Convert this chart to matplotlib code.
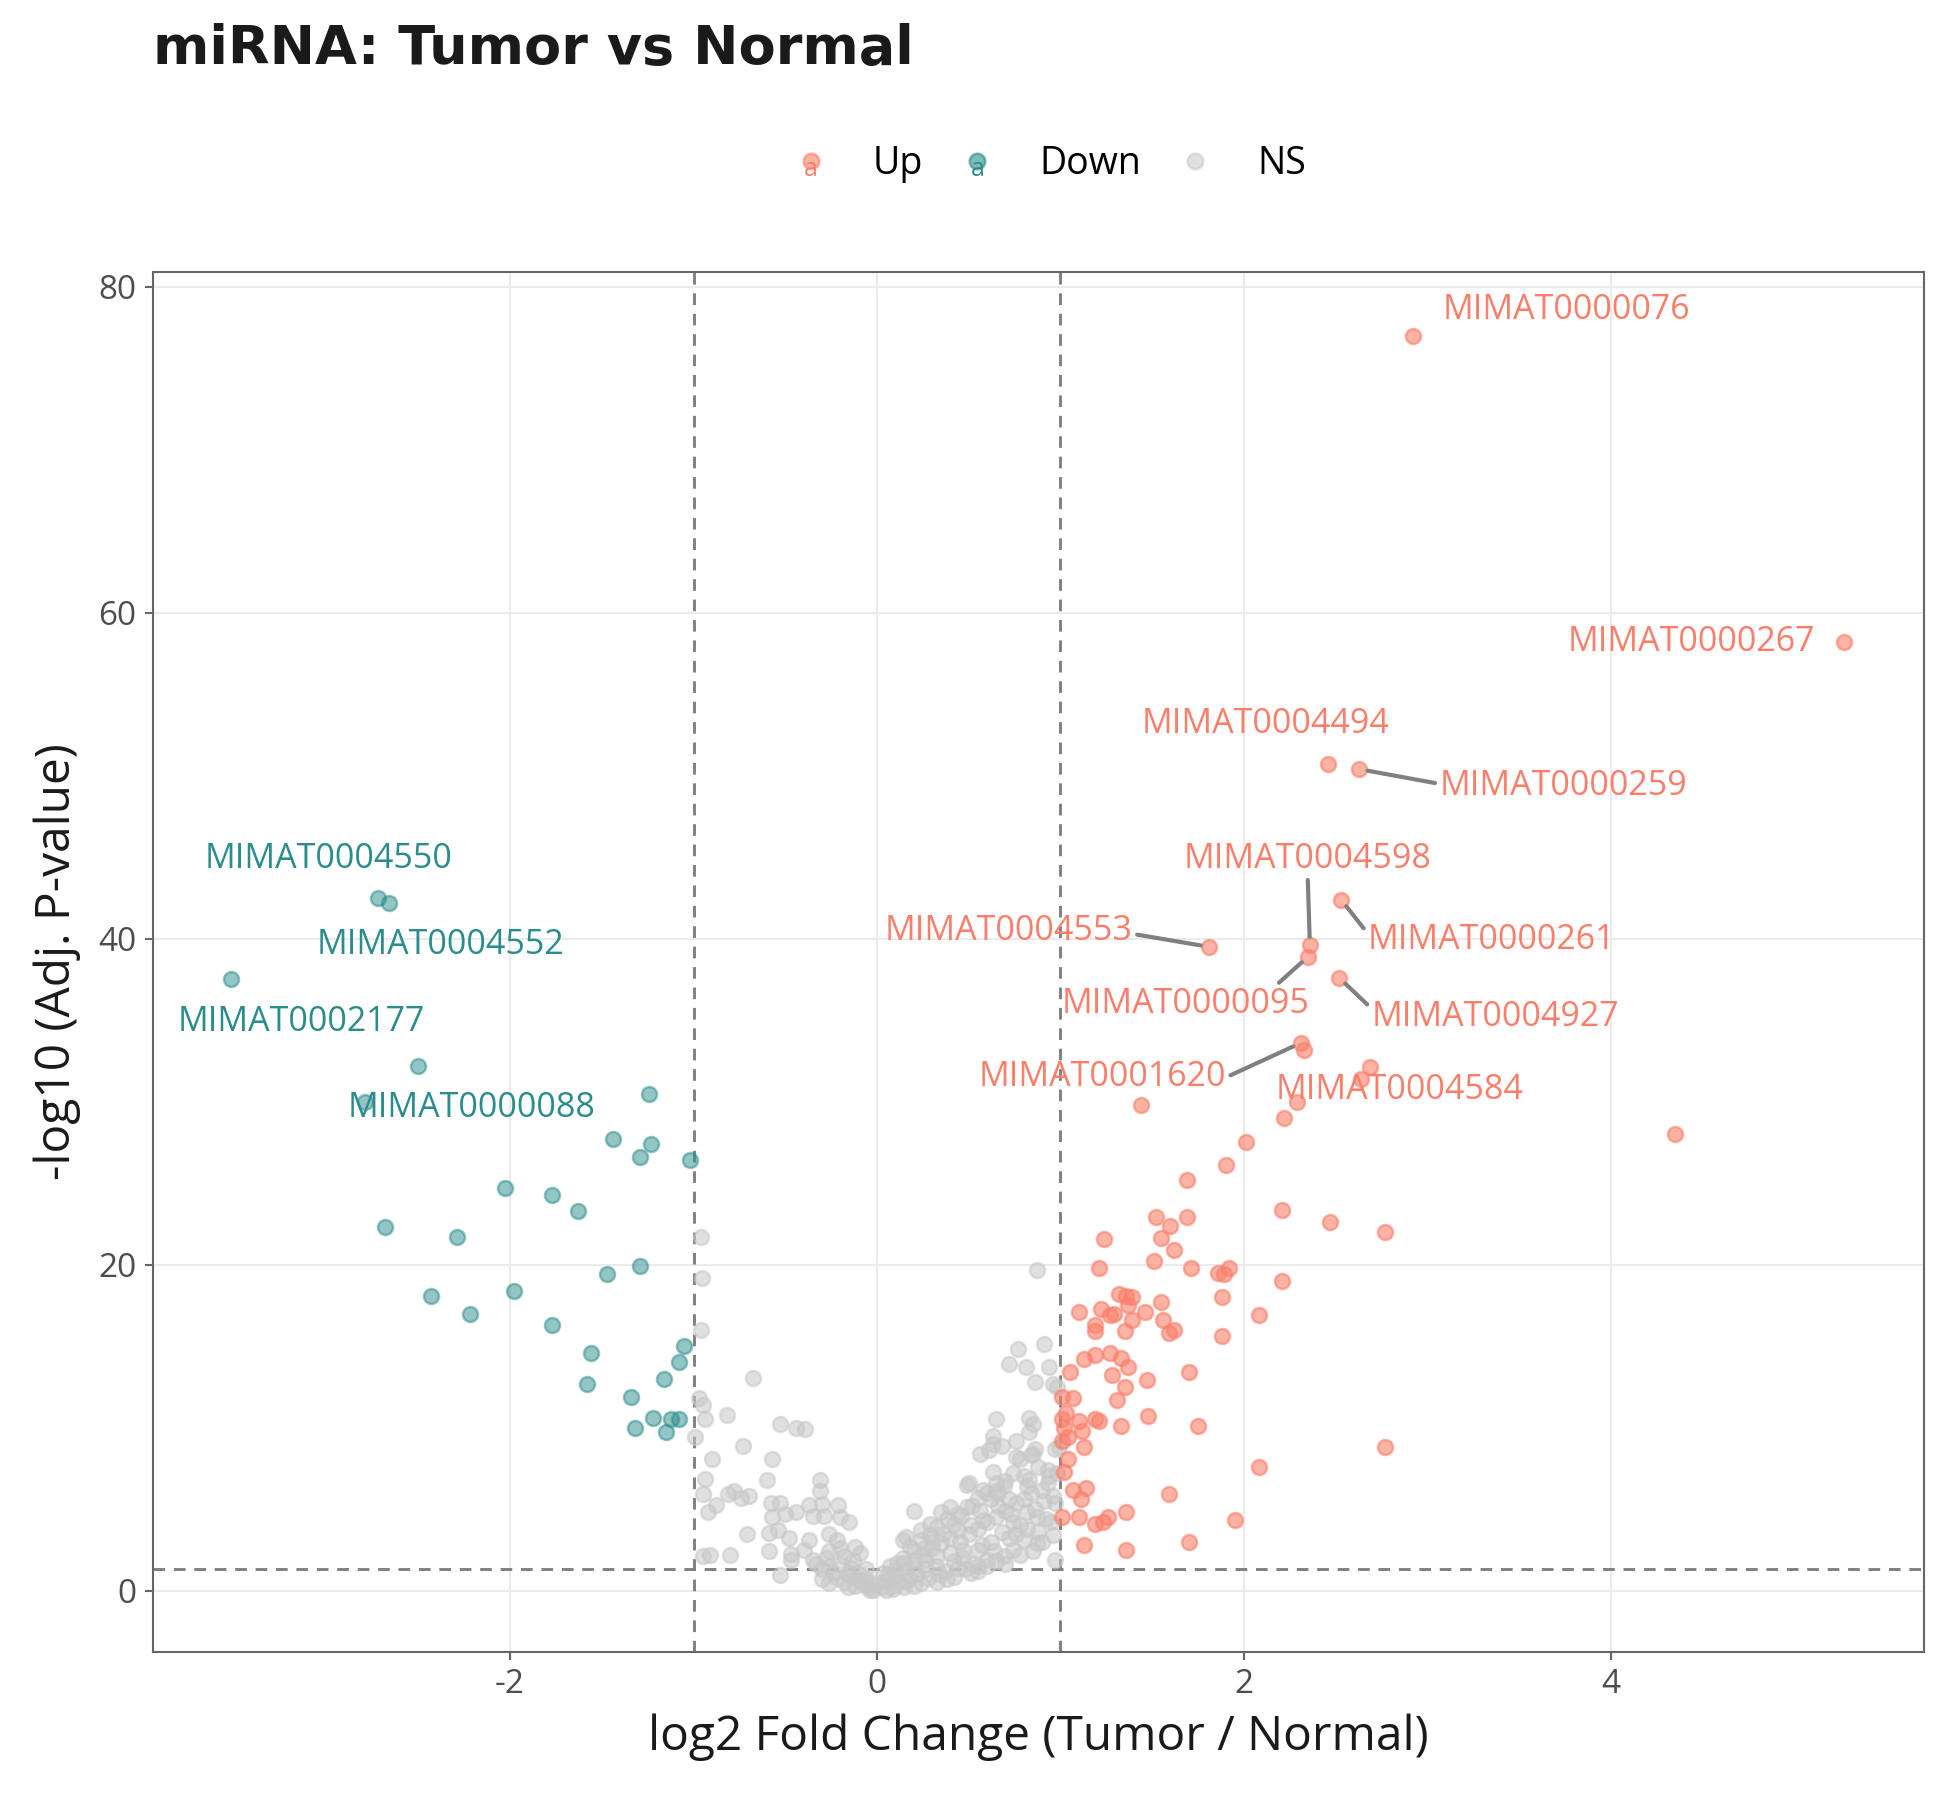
import matplotlib.pyplot as plt
from matplotlib.lines import Line2D
from matplotlib.text import Text
from matplotlib.legend_handler import HandlerBase

plt.rcParams['font.family'] = ['Open Sans', 'DejaVu Sans']
plt.rcParams['axes.unicode_minus'] = False

# significant up (log2FC, -log10 adj p)
up_x = [2.92, 5.27, 2.46, 2.63, 2.53, 1.81, 2.36, 2.35, 2.52, 2.31, 2.33, 2.69, 2.64, 2.29,
        1.44, 2.22, 4.35, 2.01, 1.90, 1.69, 2.21, 2.47, 2.77, 1.52, 1.69, 1.60, 1.24, 1.55,
        1.62, 1.51, 1.21, 1.71, 1.86, 1.89, 1.92, 2.21, 1.88, 1.32, 1.36, 1.39, 1.37, 1.55,
        1.10, 1.22, 1.27, 1.29, 1.46, 2.08, 1.39, 1.56, 1.19, 1.19, 1.35, 1.59, 1.62, 1.88,
        1.13, 1.19, 1.27, 1.33, 1.37, 1.05, 1.28, 1.47, 1.35, 1.70, 1.01, 1.07, 1.31, 1.03,
        1.01, 1.02, 1.04, 1.01, 1.10, 1.12, 1.19, 1.21, 1.33, 1.48, 1.75, 1.13, 2.77, 1.04,
        1.02, 2.08, 1.07, 1.14, 1.11, 1.59, 1.01, 1.10, 1.19, 1.23, 1.26, 1.36, 1.95, 1.13,
        1.36, 1.70]
up_y = [77.0, 58.2, 50.7, 50.4, 42.4, 39.5, 39.6, 38.9, 37.6, 33.6, 33.2, 32.1, 31.4, 30.0,
        29.8, 29.0, 28.0, 27.5, 26.1, 25.2, 23.35, 22.6, 22.0, 22.9, 22.9, 22.4, 21.6, 21.65,
        20.9, 20.25, 19.8, 19.8, 19.5, 19.45, 19.8, 19.0, 18.0, 18.2, 18.1, 18.0, 17.5, 17.7,
        17.1, 17.3, 16.9, 17.0, 17.1, 16.9, 16.6, 16.6, 16.3, 15.9, 15.9, 15.8, 16.0, 15.6,
        14.2, 14.45, 14.6, 14.3, 13.7, 13.4, 13.2, 12.9, 12.5, 13.4, 11.9, 11.8, 11.7, 10.9,
        10.5, 10.0, 9.45, 9.2, 10.4, 9.8, 10.5, 10.4, 10.1, 10.7, 10.1, 8.8, 8.8, 8.1,
        7.3, 7.6, 6.2, 6.3, 5.6, 5.9, 4.5, 4.5, 4.1, 4.2, 4.5, 4.8, 4.35, 2.8,
        2.5, 3.0]

# significant down
down_x = [-3.52, -2.72, -2.66, -2.50, -2.79, -2.68, -2.29, -2.03, -1.77, -1.63, -1.44, -1.24,
          -1.29, -1.23, -1.02, -2.43, -2.22, -1.98, -1.77, -1.47, -1.29, -1.56, -1.58, -1.34,
          -1.05, -1.08, -1.16, -1.22, -1.12, -1.08, -1.32, -1.15]
down_y = [37.5, 42.5, 42.2, 32.2, 30.0, 22.3, 21.7, 24.7, 24.3, 23.3, 27.7, 30.5,
          26.6, 27.4, 26.4, 18.1, 17.0, 18.4, 16.3, 19.4, 19.9, 14.6, 12.7, 11.9,
          15.0, 14.0, 13.0, 10.6, 10.5, 10.5, 10.0, 9.7]

# not significant
ns_x = [-0.96, -0.955, -0.96, -0.675, -0.97, -0.946, -0.94, -0.82, -0.53, -0.44, -0.39, -0.99,
        -0.73, -0.90, -0.57, -0.94, -0.60, -0.31, -0.31, -0.95, -0.81, -0.78, -0.74, -0.70,
        -0.88, -0.92, -0.58, -0.53, -0.57, -0.50, -0.44, -0.37, -0.30, -0.35, -0.29, -0.21,
        -0.20, -0.15, -0.71, -0.59, -0.54, -0.48, -0.37, -0.59, -0.47, -0.47, -0.40, -0.95,
        -0.91, -0.80, -0.53, -0.26, -0.22, -0.35, -0.26, -0.16, -0.09, -0.02, -0.26, -0.13,
        -0.09, -0.33, -0.30, -0.28, -0.24, -0.22, -0.20, -0.18, -0.15, -0.14, -0.12, -0.10,
        -0.08, -0.06, -0.05, -0.03, -0.20, -0.18, -0.16, -0.30, -0.26, -0.12, -0.06,
        0.875, 0.77, 0.91, 0.72, 0.81, 0.94, 0.86, 0.96, 0.98, 0.65, 0.83, 0.85, 0.83,
        0.63, 0.76, 0.68, 0.56, 0.61, 0.63, 0.86, 0.85, 0.78, 0.93, 0.63, 0.74, 0.80,
        0.97, 0.50, 0.65, 0.70, 0.82, 0.20, 0.49, 0.76, 0.84, 0.83, 0.97, 0.91, 0.87,
        0.82, 0.76, 0.72, 0.65, 0.69, 0.60, 0.55, 0.49, 0.44, 0.40, 0.35, 0.33, 0.29,
        0.24, 0.16, 0.14, 0.18, 0.24, 0.29, 0.36, 0.44, 0.51, 0.58, 0.65, 0.73, 0.76,
        0.80, 0.87, 0.74, 0.69, 0.60, 0.55, 0.47, 0.40, 0.33, 0.27, 0.20, 0.15, 0.11,
        0.07, 0.035, 0.00, -0.04, 0.05, 0.15, 0.24, 0.33, 0.42, 0.51, 0.55, 0.97, 0.99,
        0.05, 0.08, 0.10, 0.12, 0.15, 0.18, 0.20, 0.22, 0.25, 0.27, 0.30, 0.32, 0.35,
        0.37, 0.40, 0.42, 0.45, 0.47, 0.50, 0.52, 0.55, 0.57, 0.60, 0.62, 0.64, 0.66,
        0.68, 0.70, 0.72, 0.74, 0.78, 0.80, 0.82, 0.84, 0.86, 0.88, 0.90, 0.92, 0.94,
        0.96, 0.38, 0.42, 0.46, 0.52, 0.56, 0.58, 0.62, 0.66, 0.30, 0.26, 0.20, 0.14,
        0.10, 0.06, 0.03, 0.09, 0.16, 0.20, 0.28, 0.34, 0.38, 0.44, 0.48, 0.55, 0.60,
        0.65, 0.70, 0.78, 0.85, 0.90, 0.95, 0.96, 0.93, 0.88, 0.98]
ns_y = [21.7, 19.2, 16.0, 13.05, 11.8, 11.4, 10.5, 10.8, 10.25, 10.0, 9.9, 9.4,
        8.9, 8.1, 8.1, 6.85, 6.8, 6.8, 6.1, 5.9, 5.9, 6.1, 5.7, 5.8,
        5.25, 4.85, 5.4, 5.4, 4.5, 4.7, 4.85, 5.25, 5.3, 4.6, 4.6, 5.25,
        4.5, 4.2, 3.45, 3.55, 3.7, 3.2, 3.1, 2.4, 2.25, 1.9, 2.5, 2.1,
        2.2, 2.2, 0.96, 3.5, 3.1, 1.9, 1.5, 1.06, 0.65, 0.04, 0.45, 1.9,
        2.3, 1.6, 1.3, 2.0, 1.1, 0.8, 1.6, 0.5, 0.9, 1.4, 0.3, 1.0,
        0.4, 0.7, 0.2, 0.4, 2.6, 2.1, 0.2, 0.7, 2.4, 2.7, 1.3,
        19.7, 14.8, 15.1, 13.9, 13.7, 13.7, 12.8, 12.7, 12.5, 10.5, 10.6, 10.2, 9.7,
        9.5, 9.2, 8.9, 8.4, 8.6, 9.0, 8.7, 8.4, 8.1, 7.4, 7.3, 7.2, 7.0,
        8.7, 6.6, 6.6, 6.7, 6.4, 4.9, 6.5, 8.2, 8.3, 6.8, 5.4, 5.5, 4.5,
        4.85, 5.4, 5.6, 6.1, 6.4, 6.0, 5.7, 5.15, 4.7, 5.15, 4.85, 3.9, 4.1,
        3.7, 3.3, 3.1, 2.7, 3.1, 3.4, 3.5, 3.7, 4.0, 4.3, 4.5, 4.7, 3.5,
        3.1, 2.9, 2.5, 2.1, 1.9, 2.5, 2.5, 2.3, 2.1, 1.9, 1.9, 1.7, 1.7,
        1.5, 1.06, 0.45, 0.04, 0.04, 0.24, 0.45, 0.55, 0.85, 1.06, 1.5, 1.9, 8.8,
        0.6, 0.3, 0.9, 0.5, 1.2, 0.8, 1.4, 1.0, 2.2, 1.3, 2.6, 1.5, 2.9,
        1.2, 3.2, 1.8, 3.0, 2.0, 3.5, 1.6, 3.8, 2.8, 4.2, 3.0, 2.4, 5.2,
        3.6, 4.9, 3.2, 4.2, 4.0, 5.6, 3.8, 6.0, 5.0, 3.6, 6.2, 4.4, 7.0,
        3.4, 4.4, 4.1, 4.6, 5.2, 4.9, 6.2, 5.6, 6.0, 3.0, 2.6, 2.4, 2.0,
        1.2, 1.0, 0.2, 0.1, 0.6, 0.3, 0.8, 1.0, 0.7, 1.4, 1.3, 1.2, 1.5,
        1.8, 1.6, 2.2, 2.4, 3.0, 4.2, 5.8, 6.6, 7.6, 7.2]

# labelled miRNAs
label_ids = ['MIMAT0000076', 'MIMAT0000267', 'MIMAT0004494', 'MIMAT0000259',
             'MIMAT0004598', 'MIMAT0000261', 'MIMAT0004553', 'MIMAT0000095',
             'MIMAT0004927', 'MIMAT0001620', 'MIMAT0004584',
             'MIMAT0004550', 'MIMAT0004552', 'MIMAT0002177', 'MIMAT0000088']
label_fc = [2.92, 5.27, 2.46, 2.63, 2.36, 2.53, 1.81, 2.35, 2.52, 2.31, 2.29,
            -2.72, -2.66, -3.52, -2.79]
label_p = [77.0, 58.2, 50.7, 50.4, 39.6, 42.4, 39.5, 38.9, 37.6, 33.6, 30.0,
           42.5, 42.2, 37.5, 30.0]
label_grp = ['Up'] * 11 + ['Down'] * 4

# where the repelled text ended up (x, y, segment relpos or None)
label_text_pos = {
    'MIMAT0000076': (3.76, 78.6, None),
    'MIMAT0000267': (4.44, 58.2, None),
    'MIMAT0004494': (2.12, 53.2, None),
    'MIMAT0000259': (3.74, 49.4, (0.0, 0.55)),
    'MIMAT0004598': (2.345, 44.9, (0.5, 0.5)),
    'MIMAT0000261': (3.35, 39.9, (0.0, 0.7)),
    'MIMAT0004553': (0.72, 40.5, (1.0, 0.4)),
    'MIMAT0000095': (1.68, 36.0, (0.86, 1.0)),
    'MIMAT0004927': (3.37, 35.2, (0.0, 0.75)),
    'MIMAT0001620': (1.23, 31.5, (1.0, 0.5)),
    'MIMAT0004584': (2.85, 30.7, None),
    'MIMAT0004550': (-2.99, 44.9, None),
    'MIMAT0004552': (-2.38, 39.6, None),
    'MIMAT0002177': (-3.14, 34.9, None),
    'MIMAT0000088': (-2.21, 29.6, None),
}

up_col = '#FA7F6A'
down_col = '#2A8C8C'
ns_col = '#C8C8C8'
fc_cut = 1.0
p_cut = 1.30103


class KeyWithA(HandlerBase):
    def __init__(self, color, alpha, letter):
        super().__init__()
        self.color = color
        self.alpha = alpha
        self.letter = letter

    def create_artists(self, legend, orig_handle, xdescent, ydescent, width, height, fontsize, trans):
        cx = width / 2 - xdescent
        cy = height / 2 - ydescent
        dot = Line2D([cx], [cy], marker='o', ms=7.5, mfc=self.color, mec=self.color, mew=1.2,
                     alpha=self.alpha, ls='none', transform=trans)
        arts = [dot]
        if self.letter:
            arts.append(Text(cx, cy - 4, 'a', color=self.color, ha='center', va='center',
                             fontsize=12, transform=trans))
        return arts


fig = plt.figure(figsize=(13, 12), dpi=150)
ax = fig.add_axes([0.0785, 0.0825, 0.9082, 0.7663])

ax.set_xlim(-3.946, 5.708)
ax.set_ylim(-3.74, 80.9)
ax.set_xticks([-2, 0, 2, 4])
ax.set_yticks([0, 20, 40, 60, 80])
ax.grid(True, color='#EBEBEB', lw=1.0)
ax.set_axisbelow(True)
for s in ax.spines.values():
    s.set_color('#666666')
    s.set_linewidth(1.0)
ax.tick_params(length=4, width=1.0, color='#666666', labelsize=16, labelcolor='#4D4D4D', pad=4)

ax.axvline(-fc_cut, color='#808080', ls=(0, (4, 3)), lw=1.4, zorder=1)
ax.axvline(fc_cut, color='#808080', ls=(0, (4, 3)), lw=1.4, zorder=1)
ax.axhline(p_cut, color='#808080', ls=(0, (4, 3)), lw=1.4, zorder=1)

ax.scatter(ns_x, ns_y, s=52, color=ns_col, edgecolors=ns_col, linewidths=1.2, alpha=0.55, zorder=2)
ax.scatter(up_x, up_y, s=52, color=up_col, edgecolors=up_col, linewidths=1.2, alpha=0.6, zorder=3)
ax.scatter(down_x, down_y, s=52, color=down_col, edgecolors=down_col, linewidths=1.2, alpha=0.5, zorder=3)

for lid, fx, py, grp in zip(label_ids, label_fc, label_p, label_grp):
    tx, ty, rel = label_text_pos[lid]
    col = up_col if grp == 'Up' else down_col
    if rel is not None:
        ax.annotate(lid, xy=(fx, py), xytext=(tx, ty), color=col, fontsize=16.3,
                    ha='center', va='center', zorder=5,
                    arrowprops=dict(arrowstyle='-', color='#808080', lw=2.0,
                                    shrinkA=0, shrinkB=4, relpos=rel))
    else:
        ax.text(tx, ty, lid, color=col, fontsize=16.3, ha='center', va='center', zorder=5)

ax.set_xlabel('log2 Fold Change (Tumor / Normal)', fontsize=23, color='#1A1A1A', labelpad=6)
ax.set_ylabel('-log10 (Adj. P-value)', fontsize=23, color='#1A1A1A', labelpad=8)

fig.text(0.0785, 0.9645, 'miRNA: Tumor vs Normal', fontsize=26, fontweight='bold',
         family='DejaVu Sans', color='#1A1A1A', ha='left', va='baseline')

h_up = Line2D([], [], ls='none')
h_down = Line2D([], [], ls='none')
h_ns = Line2D([], [], ls='none')
fig.legend([h_up, h_down, h_ns], ['Up', 'Down', 'NS'], loc='center',
           bbox_to_anchor=(0.537, 0.909), ncol=3, frameon=False, fontsize=18,
           handlelength=1.2, handletextpad=1.05, columnspacing=0.85,
           handler_map={h_up: KeyWithA(up_col, 0.6, True),
                        h_down: KeyWithA(down_col, 0.6, True),
                        h_ns: KeyWithA(ns_col, 0.55, False)})

fig.savefig('out.png', dpi=150)
